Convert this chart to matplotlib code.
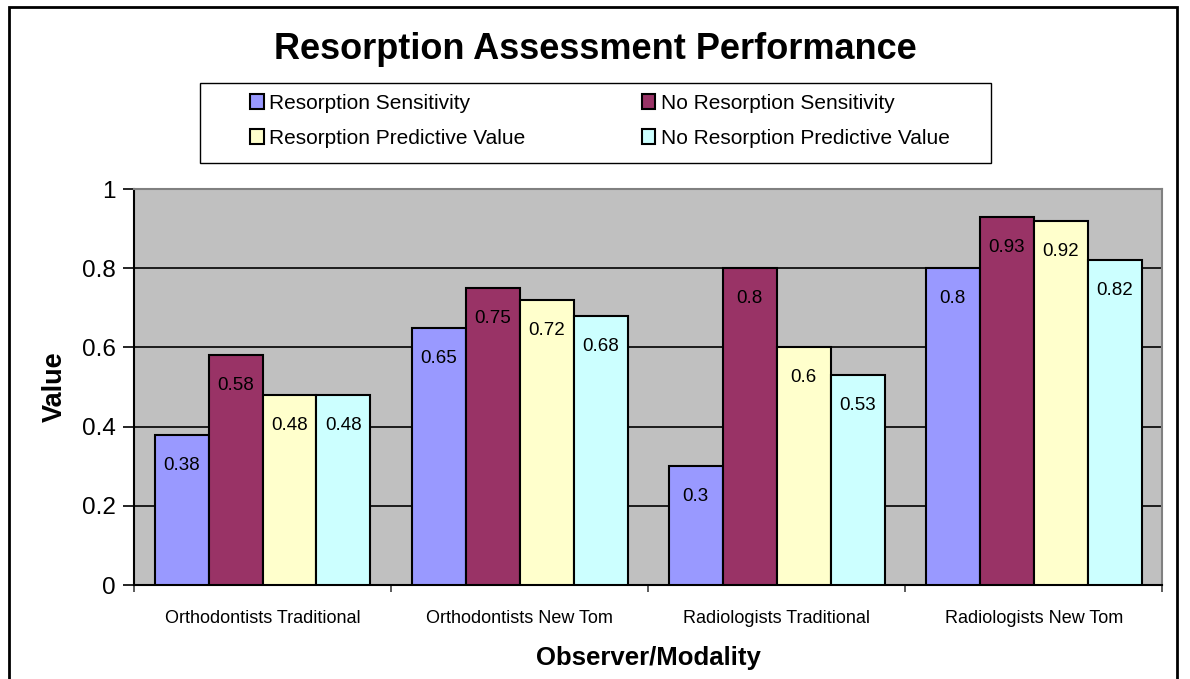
import numpy as np
import matplotlib.pyplot as plt
from matplotlib.patches import Rectangle

plt.rcParams['font.family'] = ['Liberation Sans', 'DejaVu Sans']

# Data
categories = ['Orthodontists Traditional', 'Orthodontists New Tom',
              'Radiologists Traditional', 'Radiologists New Tom']
res_sens = [0.38, 0.65, 0.3, 0.8]
nores_sens = [0.58, 0.75, 0.8, 0.93]
res_pv = [0.48, 0.72, 0.6, 0.92]
nores_pv = [0.48, 0.68, 0.53, 0.82]

series = [res_sens, nores_sens, res_pv, nores_pv]
names = ['Resorption Sensitivity', 'No Resorption Sensitivity',
         'Resorption Predictive Value', 'No Resorption Predictive Value']
colors = ['#9999FF', '#993366', '#FFFFCC', '#CCFFFF']

fig = plt.figure(figsize=(11.9, 6.79), dpi=100)
ax = fig.add_axes([0.1126, 0.1384, 0.864, 0.5832])
ax.set_facecolor('#C0C0C0')

x = np.arange(len(categories))
w = 0.21
bars = []
for i, (vals, c) in enumerate(zip(series, colors)):
    b = ax.bar(x + (i - 1.5) * w, vals, w, color=c, edgecolor='black',
               linewidth=1.5, label=names[i], zorder=3)
    bars.append(b)
    for rect, v in zip(b, vals):
        ax.annotate('%g' % v, (rect.get_x() + rect.get_width() / 2, v),
                    xytext=(0, -22), textcoords='offset points',
                    ha='center', va='center', fontsize=13.5, zorder=4)

ax.set_xlim(-0.5, len(categories) - 0.5)
ax.set_ylim(0, 1)
ax.set_yticks([0, 0.2, 0.4, 0.6, 0.8, 1])
ax.set_yticklabels(['0', '0.2', '0.4', '0.6', '0.8', '1'], fontsize=17.5)
ax.yaxis.grid(True, color='black', linewidth=1.2, zorder=1)
ax.set_axisbelow(True)

ax.set_xticks(x)
ax.set_xticklabels(categories, fontsize=13)
ax.set_xticks(np.arange(-0.5, len(categories)), minor=True)
ax.tick_params(axis='x', which='major', length=0, pad=18)
ax.tick_params(axis='x', which='minor', length=5, width=1.2, direction='out',
               color='#404040')
ax.tick_params(axis='y', length=8, width=1.2, direction='out', pad=5)

for s in ['top', 'right']:
    ax.spines[s].set_color('#808080')
    ax.spines[s].set_linewidth(1.5)
for s in ['left', 'bottom']:
    ax.spines[s].set_color('black')
    ax.spines[s].set_linewidth(1.5)

ax.set_xlabel('Observer/Modality', fontsize=18.5, fontweight='bold', labelpad=14)
ax.set_ylabel('Value', fontsize=19.5, fontweight='bold', labelpad=10)

fig.suptitle('Resorption Assessment Performance', fontsize=26,
             fontweight='bold', y=0.953)

order = [0, 2, 1, 3]
handles = [bars[i] for i in order]
labels = [names[i] for i in order]
leg = fig.legend(handles, labels, ncol=2, loc='center',
                 bbox_to_anchor=(0.504, 0.8218), fontsize=15,
                 frameon=False, handlelength=0.65, handleheight=0.75,
                 handletextpad=0.25, columnspacing=5.6, labelspacing=0.78)

# legend box
fig.patches.append(Rectangle((0.168, 0.760), 0.665, 0.118, transform=fig.transFigure,
                             fill=False, edgecolor='black', linewidth=1.0))

# outer frame of the chart area
fig.patches.append(Rectangle((0.0076, -0.02), 0.9815, 1.01, transform=fig.transFigure,
                             fill=False, edgecolor='black', linewidth=2))

fig.savefig('out.png', dpi=100)
